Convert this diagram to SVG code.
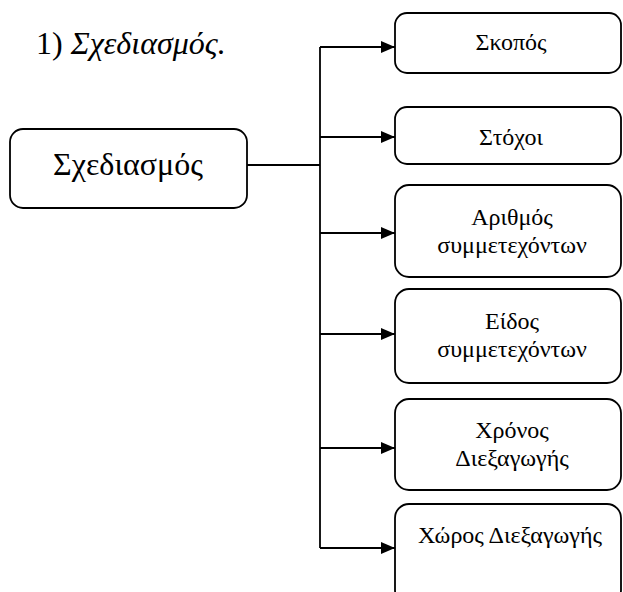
<svg xmlns="http://www.w3.org/2000/svg" width="623" height="592" viewBox="0 0 623 592">
  <defs>
    <marker id="arrow" viewBox="0 0 14 12" refX="14" refY="6" markerWidth="14" markerHeight="12" markerUnits="userSpaceOnUse" orient="auto">
      <path d="M0,0 L14,6 L0,12 Z" fill="#000"/>
    </marker>
    <style>
      .box { fill: #fff; stroke: #000; stroke-width: 1.8; }
      .lbl { font-family: "Liberation Serif", "Times New Roman", serif; font-size: 24px; fill: #000; text-anchor: middle; }
      .big { font-family: "Liberation Serif", "Times New Roman", serif; font-size: 32px; fill: #000; }
      .wire { fill: none; stroke: #000; stroke-width: 1.8; }
    </style>
  </defs>
  <rect width="623" height="592" fill="#fff"/>

  <text class="big" x="36" y="54" font-size="31">1) <tspan font-style="italic">Σχεδιασμός.</tspan></text>

  <g id="connectors">
    <line class="wire" x1="247" y1="165" x2="320" y2="165"/>
    <line class="wire" x1="320" y1="47" x2="320" y2="548"/>
    <line class="wire" x1="320" y1="47" x2="395" y2="47" marker-end="url(#arrow)"/>
    <line class="wire" x1="320" y1="137" x2="395" y2="137" marker-end="url(#arrow)"/>
    <line class="wire" x1="320" y1="233" x2="395" y2="233" marker-end="url(#arrow)"/>
    <line class="wire" x1="320" y1="334" x2="395" y2="334" marker-end="url(#arrow)"/>
    <line class="wire" x1="320" y1="448" x2="395" y2="448" marker-end="url(#arrow)"/>
    <line class="wire" x1="320" y1="548" x2="395" y2="548" marker-end="url(#arrow)"/>
  </g>

  <g id="main">
    <rect class="box" x="10" y="129" width="237" height="79" rx="13"/>
    <text class="big" x="128" y="175" text-anchor="middle">Σχεδιασμός</text>
  </g>

  <g id="skopos">
    <rect class="box" x="395" y="13" width="226" height="60" rx="12"/>
    <text class="lbl" x="511" y="50">Σκοπός</text>
  </g>

  <g id="stoxoi">
    <rect class="box" x="395" y="107" width="226" height="57" rx="12"/>
    <text class="lbl" x="511" y="145">Στόχοι</text>
  </g>

  <g id="arithmos">
    <rect class="box" x="395" y="185" width="226" height="92" rx="14"/>
    <text class="lbl" x="512" y="225">Αριθμός</text>
    <text class="lbl" x="512" y="253">συμμετεχόντων</text>
  </g>

  <g id="eidos">
    <rect class="box" x="395" y="289" width="226" height="94" rx="14"/>
    <text class="lbl" x="512" y="329">Είδος</text>
    <text class="lbl" x="512" y="357">συμμετεχόντων</text>
  </g>

  <g id="xronos">
    <rect class="box" x="395" y="399" width="226" height="91" rx="14"/>
    <text class="lbl" x="512" y="438">Χρόνος</text>
    <text class="lbl" x="512" y="466">Διεξαγωγής</text>
  </g>

  <g id="xoros">
    <rect class="box" x="395" y="504" width="226" height="100" rx="14"/>
    <text class="lbl" x="510" y="543">Χώρος Διεξαγωγής</text>
  </g>
</svg>
